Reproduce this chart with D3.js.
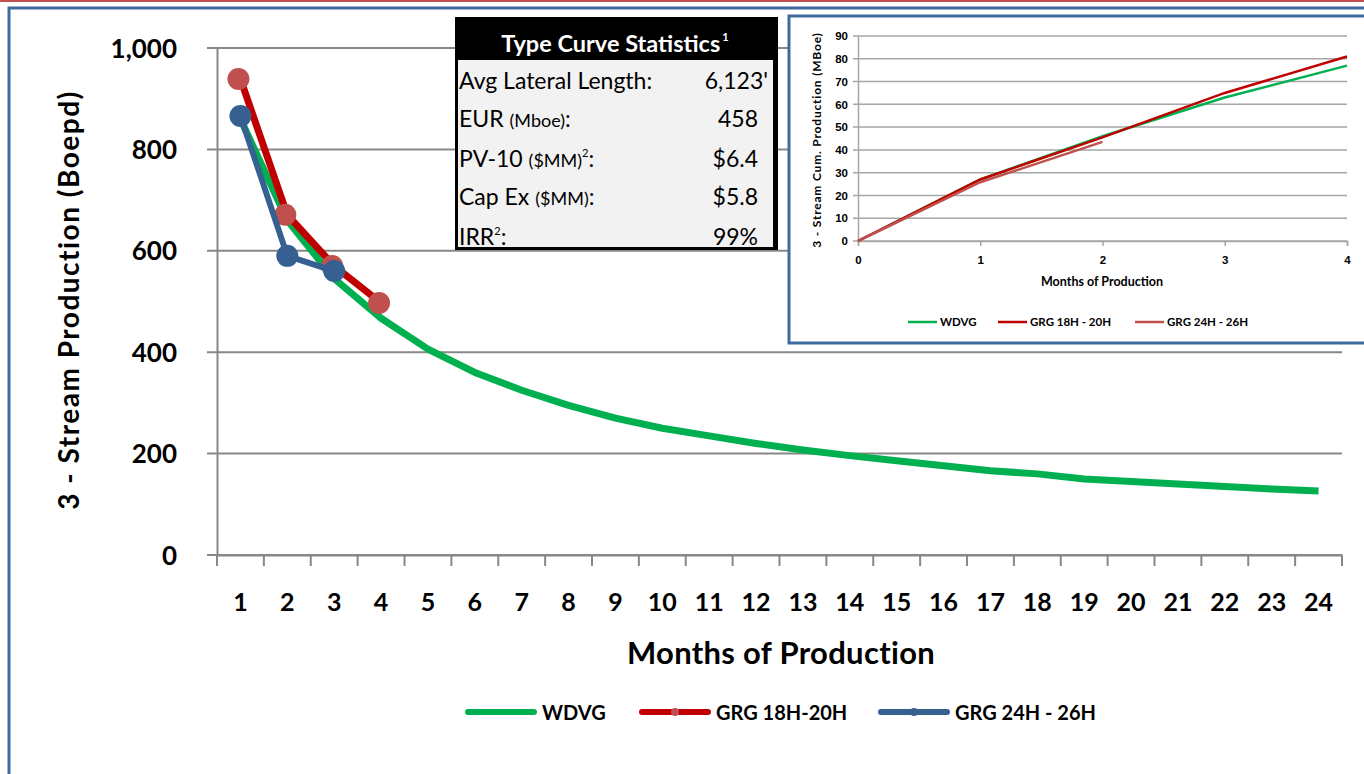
<!DOCTYPE html>
<html>
<head>
<meta charset="utf-8">
<script src="https://cdn.jsdelivr.net/npm/d3@7"></script>
<style>
  body { margin: 0; background: #fff; }
  svg { display: block; font-family: Lato, "Open Sans", sans-serif; }
</style>
</head>
<body>
<div class="chart"></div>
<script>
// ---- data ----
var months = d3.range(1, 25);
var wdvg = [860, 660, 545, 467, 406, 360, 325, 295, 270, 250, 235, 220, 207, 196, 186, 176, 166, 160, 150, 145, 140, 135, 130, 126];
var grg18 = [939, 671, 570, 497];
var grg24 = [866, 590, 560];
var yTicks = [0, 200, 400, 600, 800, 1000];

// inset: cumulative production
var cumMonths = [0, 1, 2, 3, 4];
var cumWdvg = [0, 27, 46, 63, 77];
var cumGrg18 = [0, 27, 45.5, 65, 81];
var cumGrg24 = [0, 25.8, 43.5];
var cumTicks = [0, 10, 20, 30, 40, 50, 60, 70, 80, 90];

var stats = [
  ["Avg Lateral Length:", "", "", "6,123'"],
  ["EUR ", "(Mboe)", ":", "458"],
  ["PV-10 ", "($MM)", "2:", "$6.4"],
  ["Cap Ex ", "($MM)", ":", "$5.8"],
  ["IRR", "", "2:", "99%"]
];

var green = "#00b050", red = "#c00000", pink = "#c0504d", blue = "#376092";

var svgWidth = 1364, svgHeight = 774;
var svg = d3.select(".chart").append("svg")
  .attr("width", svgWidth)
  .attr("height", svgHeight);

// outer frame
svg.append("line").attr("x1", 0).attr("x2", svgWidth).attr("y1", 1).attr("y2", 1)
  .attr("stroke", pink).attr("stroke-width", 2);
svg.append("path").attr("d", "M9,780 L9,8 L1370,8")
  .attr("fill", "none").attr("stroke", "#3f6aa0").attr("stroke-width", 3);

// ---- main chart ----
var x = d3.scaleBand().domain(months).range([217, 1342]);
var y = d3.scaleLinear().domain([0, 1000]).range([555, 48]);

var grid = svg.append("g");
grid.selectAll("line").data(yTicks).enter().append("line")
  .attr("x1", 207).attr("x2", 1342)
  .attr("y1", d => y(d)).attr("y2", d => y(d))
  .attr("stroke", "#878787").attr("stroke-width", 2);

var yAxis = svg.append("g").attr("transform", "translate(217,0)")
  .call(d3.axisLeft(y).tickValues(yTicks).tickSize(0).tickPadding(40).tickFormat(d3.format(",")));
yAxis.select(".domain").attr("stroke", "#878787").attr("stroke-width", 2);
yAxis.selectAll("text").attr("font-size", 26).attr("font-weight", "bold")
  .attr("fill", "#000").attr("font-family", "Lato").attr("dy", "0.35em");

var xAxis = svg.append("g").attr("transform", "translate(0,555)")
  .call(d3.axisBottom(x).tickSize(0).tickPadding(38));
xAxis.select(".domain").attr("stroke", "#878787").attr("stroke-width", 2);
xAxis.selectAll("text").attr("font-size", 25).attr("font-weight", "bold")
  .attr("fill", "#000").attr("font-family", "Lato");
// tick marks between categories
svg.append("g").selectAll("line").data(months.concat([25])).enter().append("line")
  .attr("x1", d => x.range()[0] + (d - 1) * x.bandwidth())
  .attr("x2", d => x.range()[0] + (d - 1) * x.bandwidth())
  .attr("y1", 555).attr("y2", 566)
  .attr("stroke", "#878787").attr("stroke-width", 2);

svg.append("text").attr("x", 781).attr("y", 664).attr("text-anchor", "middle")
  .attr("font-size", 31).attr("font-weight", "bold").attr("letter-spacing", 0.3)
  .text("Months of Production");

svg.append("text").attr("transform", "translate(79,300) rotate(-90)")
  .attr("text-anchor", "middle").attr("font-size", 28).attr("font-weight", "bold")
  .attr("letter-spacing", 1.5)
  .text("3 - Stream Production  (Boepd)");

var line = d3.line().x((d, i) => x(months[i]) + x.bandwidth() / 2).y(d => y(d));

svg.append("path").datum(wdvg).attr("d", line)
  .attr("fill", "none").attr("stroke", green).attr("stroke-width", 7).attr("stroke-linejoin", "round");
svg.append("path").datum(grg18).attr("d", line)
  .attr("fill", "none").attr("stroke", red).attr("stroke-width", 7).attr("stroke-linejoin", "round");
svg.append("g").selectAll("circle").data(grg18).enter().append("circle")
  .attr("cx", (d, i) => x(months[i]) + x.bandwidth() / 2 - 2).attr("cy", d => y(d))
  .attr("r", 11).attr("fill", pink);
svg.append("path").datum(grg24).attr("d", line)
  .attr("fill", "none").attr("stroke", blue).attr("stroke-width", 6).attr("stroke-linejoin", "round");
svg.append("g").selectAll("circle").data(grg24).enter().append("circle")
  .attr("cx", (d, i) => x(months[i]) + x.bandwidth() / 2).attr("cy", d => y(d))
  .attr("r", 11).attr("fill", blue);

// main legend
var legend = [
  { name: "WDVG", color: green, x: 466, marker: null },
  { name: "GRG 18H-20H", color: red, x: 640, marker: pink },
  { name: "GRG 24H - 26H", color: blue, x: 879, marker: blue }
];
var lg = svg.append("g").selectAll("g").data(legend).enter().append("g")
  .attr("transform", d => `translate(${d.x},712)`);
lg.append("line").attr("x1", 2).attr("x2", 68).attr("y1", 0).attr("y2", 0)
  .attr("stroke", d => d.color).attr("stroke-width", 6).attr("stroke-linecap", "round");
lg.filter(d => d.marker).append("circle").attr("cx", 35).attr("cy", 0).attr("r", 4)
  .attr("fill", d => d.marker);
lg.append("text").attr("x", 76).attr("y", 8).attr("font-size", 20).attr("font-weight", "bold")
  .text(d => d.name);

// ---- stats box ----
var box = svg.append("g").attr("transform", "translate(455,17)");
box.append("rect").attr("x", 0).attr("y", 0).attr("width", 323).attr("height", 233).attr("fill", "#000");
box.append("rect").attr("x", 3).attr("y", 43).attr("width", 315).attr("height", 187).attr("fill", "#f2f2f2");
var title = box.append("text").attr("x", 160).attr("y", 35).attr("text-anchor", "middle")
  .attr("fill", "#fff").attr("font-size", 23.5).attr("font-weight", "bold");
title.append("tspan").text("Type Curve Statistics");
title.append("tspan").attr("font-size", 11).attr("dy", -11).attr("dx", 2).text("1");

var rowY = [72, 110, 150, 188, 228];
stats.forEach(function(r, i) {
  var t = box.append("text").attr("x", 4).attr("y", rowY[i]).attr("font-size", 23).attr("fill", "#000");
  t.append("tspan").text(r[0]);
  if (r[1]) t.append("tspan").attr("font-size", 18).text(r[1]);
  if (r[2] === "2:") {
    t.append("tspan").attr("font-size", 11).attr("dy", -10).text("2");
    t.append("tspan").attr("dy", 10).text(":");
  } else if (r[2]) {
    t.append("tspan").text(r[2]);
  }
  box.append("text").attr("x", i === 0 ? 313 : 303).attr("y", rowY[i]).attr("text-anchor", "end")
    .attr("font-size", 23).text(r[3]);
});

// ---- inset chart ----
var inset = svg.append("g");
inset.append("rect").attr("x", 789).attr("y", 16).attr("width", 590).attr("height", 327)
  .attr("fill", "#fff").attr("stroke", "#3f6aa0").attr("stroke-width", 3);

var ix = d3.scaleLinear().domain([0, 4]).range([858, 1347]);
var iy = d3.scaleLinear().domain([0, 90]).range([241, 36]);

inset.append("g").selectAll("line").data(cumTicks).enter().append("line")
  .attr("x1", 853).attr("x2", 1347).attr("y1", d => iy(d)).attr("y2", d => iy(d))
  .attr("stroke", "#a6a6a6").attr("stroke-width", 1.5);

var iyAxis = inset.append("g").attr("transform", "translate(858,0)")
  .call(d3.axisLeft(iy).tickValues(cumTicks).tickSize(0).tickPadding(10));
iyAxis.select(".domain").attr("stroke", "#a6a6a6").attr("stroke-width", 1.5);
iyAxis.selectAll("text").attr("font-size", 11.5).attr("font-weight", "bold").attr("fill", "#000");

var ixAxis = inset.append("g").attr("transform", "translate(0,241)")
  .call(d3.axisBottom(ix).tickValues(cumMonths).tickSize(5).tickPadding(10).tickFormat(d3.format("d")));
ixAxis.selectAll("path, line").attr("stroke", "#a6a6a6").attr("stroke-width", 1.5);
ixAxis.selectAll("text").attr("font-size", 11.5).attr("font-weight", "bold").attr("fill", "#000");

inset.append("text").attr("x", 1102).attr("y", 286).attr("text-anchor", "middle")
  .attr("font-size", 12.5).attr("font-weight", "bold").text("Months of Production");
inset.append("text").attr("transform", "translate(821,140) rotate(-90)").attr("text-anchor", "middle")
  .attr("font-size", 12).attr("font-weight", "bold").attr("letter-spacing", 0.8)
  .text("3 - Stream Cum. Production (MBoe)");

var iline = d3.line().x((d, i) => ix(cumMonths[i])).y(d => iy(d));
[[cumWdvg, green], [cumGrg18, red], [cumGrg24, pink]].forEach(function(s) {
  inset.append("path").datum(s[0]).attr("d", iline)
    .attr("fill", "none").attr("stroke", s[1]).attr("stroke-width", 2.5);
});

var ilegend = [
  { name: "WDVG", color: green, x: 908 },
  { name: "GRG 18H - 20H", color: red, x: 998 },
  { name: "GRG 24H - 26H", color: pink, x: 1135 }
];
var ilg = inset.append("g").selectAll("g").data(ilegend).enter().append("g")
  .attr("transform", d => `translate(${d.x},322)`);
ilg.append("line").attr("x1", 0).attr("x2", 29).attr("stroke", d => d.color).attr("stroke-width", 2.5);
ilg.append("text").attr("x", 32).attr("y", 4).attr("font-size", 11.5).attr("font-weight", "bold")
  .text(d => d.name);
</script>
</body>
</html>
